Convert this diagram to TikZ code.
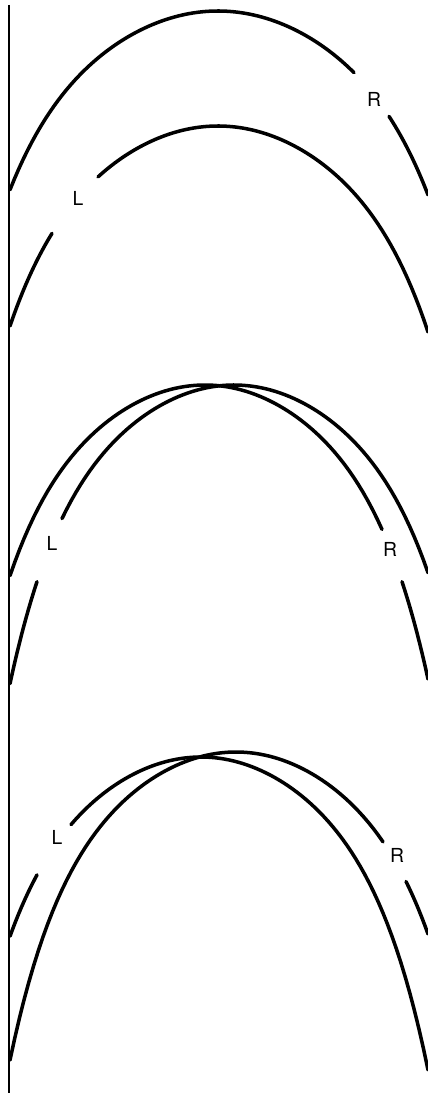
\documentclass[tikz,border=0pt]{standalone}
\usepackage{fontspec}
\setsansfont{TeX Gyre Heros}
\usepackage{tikz}

\begin{document}
\begin{tikzpicture}[x=0.02cm, y=-0.02cm,
      declare function={arch(\u)=37.5*\u*\u+0.875*(\u*\u)^3;},
      curv/.style={line width=2pt, line cap=round, line join=round},
      lbl/.style={font=\sffamily\fontsize{11}{13}\selectfont, inner sep=0pt}]

    \useasboundingbox (0,0) rectangle (427,1097);

    % baseline
    \coordinate (top) at (9,5);
    \coordinate (bot) at (9,1093);
    \draw[line width=1.1pt] (top) -- (bot);

    % panel 1
    \draw[curv] plot[domain=10:354, samples=80] (\x, {11+arch((\x-218)/109)});
    \draw[curv] plot[domain=389:428, samples=20] (\x, {11+arch((\x-218)/109)});
    \draw[curv] plot[domain=10:52, samples=20] (\x, {126+arch((\x-218)/105)});
    \draw[curv] plot[domain=98:428, samples=80] (\x, {126+arch((\x-218)/105)});
    \node[lbl] (L1) at (78,198) {L};
    \node[lbl] (R1) at (374,99) {R};

    % panel 2
    \draw[curv] plot[domain=10:382, samples=80] (\x, {385+arch((\x-205)/100)});
    \draw[curv] plot[domain=402:428, samples=20] (\x, {385+arch((\x-205)/100)});
    \draw[curv] plot[domain=10:37, samples=20] (\x, {385+arch((\x-234)/100)});
    \draw[curv] plot[domain=62:428, samples=80] (\x, {385+arch((\x-234)/100)});
    \node[lbl] (L2) at (52,543) {L};
    \node[lbl] (R2) at (390,549) {R};

    % panel 3
    \draw[curv] plot[domain=10:37, samples=20] (\x, {757+arch((\x-201)/100)});
    \draw[curv] plot[domain=71:428, samples=80] (\x, {757+arch((\x-201)/100)});
    \draw[curv] plot[domain=10:383, samples=80] (\x, {752+arch((\x-236)/100)});
    \draw[curv] plot[domain=406:428, samples=20] (\x, {752+arch((\x-236)/100)});
    \node[lbl] (L3) at (57,837) {L};
    \node[lbl] (R3) at (397,855) {R};
\end{tikzpicture}
\end{document}
